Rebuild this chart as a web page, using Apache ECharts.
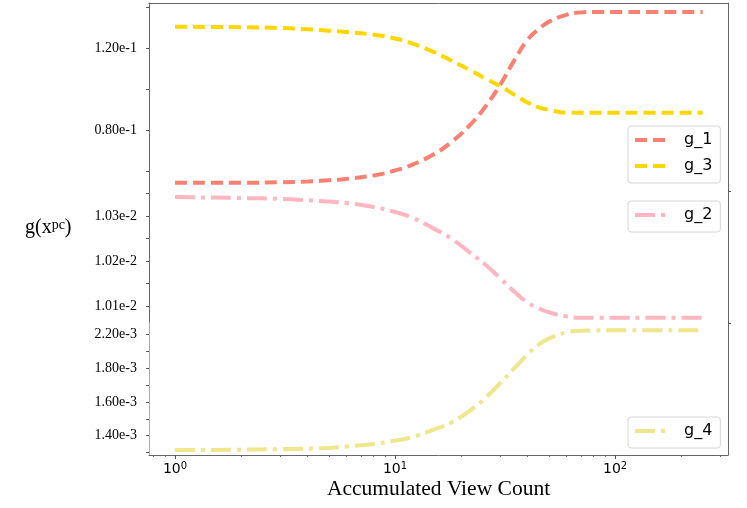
<!DOCTYPE html>
<html><head><meta charset="utf-8">
<script src="https://cdn.jsdelivr.net/npm/echarts@6/dist/echarts.min.js"></script>
<style>html,body{margin:0;padding:0;background:#fff}#c{width:747px;height:508px}</style>
</head><body><div id="c"></div>
<script>
// ---- data ----
const viewCounts = [1, 1.5, 2, 3, 4, 5, 6, 8, 10, 12, 15, 18, 22, 26, 30, 35, 40, 45, 50, 60, 70, 80, 100, 150, 250];
const g1 = [0.0544,0.0544,0.0544,0.0547,0.0550,0.0557,0.0563,0.0580,0.0604,0.0633,0.0683,0.0742,0.0828,0.0922,0.1021,0.1145,0.1241,0.1294,0.1329,0.1363,0.1375,0.1377,0.1377,0.1377,0.1377];
const g3 = [0.1305,0.1304,0.1303,0.1299,0.1293,0.1286,0.1280,0.1266,0.1248,0.1223,0.1182,0.1140,0.1093,0.1050,0.1016,0.0972,0.0936,0.0912,0.0901,0.0886,0.0886,0.0886,0.0886,0.0886,0.0886];
const g2 = [0.010342,0.010341,0.010340,0.010338,0.010335,0.010332,0.010329,0.010320,0.010309,0.010296,0.010272,0.010250,0.010218,0.010190,0.010162,0.010131,0.010108,0.010095,0.010086,0.010077,0.010074,0.010074,0.010074,0.010074,0.010074];
const g4 = [0.0013154,0.0013160,0.0013172,0.0013207,0.0013237,0.0013278,0.0013355,0.0013515,0.0013710,0.0013923,0.0014361,0.0014787,0.0015503,0.0016290,0.0017095,0.0018018,0.0018799,0.0019396,0.0019745,0.0020112,0.0020207,0.0020231,0.0020237,0.0020237,0.0020237];

const xMajorTicks = [1, 10, 100];
const xMinorTicks = [0.8, 0.9, 2, 3, 4, 5, 6, 7, 8, 9, 20, 30, 40, 50, 60, 70, 80, 90, 200, 300];
const xRange = [0.762, 326];

const topRange = [0.0504, 0.1421];
const topTicks = [0.06, 0.08, 0.10, 0.12, 0.14];
const topLabelValues = [0.08, 0.12];
const topLabels = ['0.80e-1', '1.20e-1'];

const midRange = [0.0100622, 0.0103556];
const midTicks = [0.01010, 0.01015, 0.01020, 0.01025, 0.01030, 0.01035];
const midLabelValues = [0.0101, 0.0102, 0.0103];
const midLabels = ['1.01e-2', '1.02e-2', '1.03e-2'];

const botRange = [0.0012858, 0.0020669];
const botTicks = [0.0013, 0.0014, 0.0015, 0.0016, 0.0017, 0.0018, 0.0019, 0.0020];
const botLabelValues = [0.0014, 0.0016, 0.0018, 0.0020];
const botLabels = ['1.40e-3', '1.60e-3', '1.80e-3', '2.20e-3'];

const xTitle = 'Accumulated View Count';

// ---- helpers ----
const L = v => Math.log10(v);
const pts = ys => viewCounts.map((x, i) => [L(x), ys[i]]);
const lookup = (vals, labs) => v => {
  const i = vals.findIndex(t => Math.abs(t - v) < 1e-9);
  return i >= 0 ? labs[i] : '';
};
const SPINE = '#666';
const serif = 'Liberation Serif';
const sans = 'DejaVu Sans';

const yAxisLeft = (grid, range, ticks, lv, labs, lineColor) => ({
  type: 'value', gridIndex: grid, position: 'left', min: range[0], max: range[1],
  splitLine: {show: false},
  axisLine: {show: true, onZero: false, lineStyle: {color: lineColor || SPINE, width: 1}},
  axisTick: {show: true, length: 3, customValues: ticks, lineStyle: {color: '#555'}},
  axisLabel: {show: true, customValues: lv, formatter: lookup(lv, labs), margin: 12,
    fontFamily: serif, fontSize: 14, color: '#000'}
});
const yAxisRight = (grid, range, tickVals) => ({
  type: 'value', gridIndex: grid, position: 'right', min: range[0], max: range[1],
  splitLine: {show: false},
  axisLine: {show: true, onZero: false, lineStyle: {color: SPINE, width: 1}},
  axisTick: {show: !!tickVals, length: 3, customValues: tickVals || [], lineStyle: {color: '#555'}},
  axisLabel: {show: false}
});
const xBase = (grid) => ({
  type: 'value', gridIndex: grid, min: L(xRange[0]), max: L(xRange[1]), splitLine: {show: false}
});

const dashed = [12, 6];
const dashDot = [20, 6, 4, 6];
const mkSeries = (name, ys, color, dash, xi, yi) => ({
  name, type: 'line', xAxisIndex: xi, yAxisIndex: yi, data: pts(ys),
  symbol: 'none', smooth: 0.5, silent: true,
  lineStyle: {color, width: 4, type: dash, cap: 'butt'},
  itemStyle: {color}
});

const legendBase = (names, top) => ({
  data: names, orient: 'vertical', left: 628, top: top,
  padding: [5, 8, 8, 5], itemGap: 8, itemWidth: 32, itemHeight: 14,
  backgroundColor: 'rgba(255,255,255,0.85)', borderColor: '#d6d6d6', borderWidth: 1, borderRadius: 3,
  itemStyle: {opacity: 0},
  lineStyle: {width: 4},
  textStyle: {fontFamily: sans, fontSize: 16, color: '#000', lineHeight: 18, padding: [0, 0, 0, 12]},
  selectedMode: false
});

const chart = echarts.init(document.getElementById('c'));
chart.setOption({
  animation: false,
  backgroundColor: '#fff',
  grid: [
    {left: 149, right: 19, top: 3, height: 188},
    {left: 149, right: 19, top: 191, height: 132},
    {left: 149, right: 19, top: 323, height: 132}
  ],
  xAxis: [
    Object.assign(xBase(0), {position: 'top', axisLine: {show: true, onZero: false, lineStyle: {color: SPINE}}, axisTick: {show: false}, axisLabel: {show: false}}),
    Object.assign(xBase(1), {show: false}),
    Object.assign(xBase(2), {position: 'bottom',
      axisLine: {show: true, onZero: false, lineStyle: {color: SPINE}},
      axisTick: {show: true, length: 4, customValues: xMajorTicks.map(L), lineStyle: {color: '#555'}},
      axisLabel: {show: true, customValues: xMajorTicks.map(L), margin: 6,
        formatter: v => '{a|10}{b|' + Math.round(v) + '}',
        rich: {a: {fontFamily: sans, fontSize: 14, color: '#000'}, b: {fontFamily: sans, fontSize: 10, color: '#000', verticalAlign: 'top', padding: [0, 0, 6, 0]}}},
      name: xTitle, nameLocation: 'middle', nameGap: 23,
      nameTextStyle: {fontFamily: serif, fontSize: 21.5, color: '#000'}}),
    Object.assign(xBase(2), {position: 'bottom',
      axisLine: {show: false, onZero: false},
      axisTick: {show: true, length: 2, customValues: xMinorTicks.map(L), lineStyle: {color: '#666'}},
      axisLabel: {show: false}})
  ],
  yAxis: [
    yAxisLeft(0, topRange, topTicks, topLabelValues, topLabels),
    yAxisRight(0, topRange),
    yAxisLeft(1, midRange, midTicks, midLabelValues, midLabels),
    yAxisRight(1, midRange, [midRange[0], midRange[1]]),
    yAxisLeft(2, botRange, botTicks, botLabelValues, botLabels, '#aaa'),
    yAxisRight(2, botRange)
  ],
  legend: [
    legendBase(['g_1', 'g_3'], 126),
    legendBase(['g_2'], 201),
    legendBase(['g_4'], 417)
  ],
  graphic: [{
    type: 'text', left: 25, top: 218,
    style: {
      text: '{a|g(x}{b|pc}{a|)}',
      rich: {
        a: {fontFamily: serif, fontSize: 20, fill: '#000'},
        b: {fontFamily: serif, fontSize: 14, fill: '#000', verticalAlign: 'top', padding: [0, 0, 6, 0]}
      }
    }
  }],
  series: [
    mkSeries('g_1', g1, '#FA8072', dashed, 0, 0),
    mkSeries('g_3', g3, '#FFD700', dashed, 0, 0),
    mkSeries('g_2', g2, '#FFB6C1', dashDot, 1, 2),
    mkSeries('g_4', g4, '#F0E68C', dashDot, 2, 4)
  ]
});
</script>
</body></html>
